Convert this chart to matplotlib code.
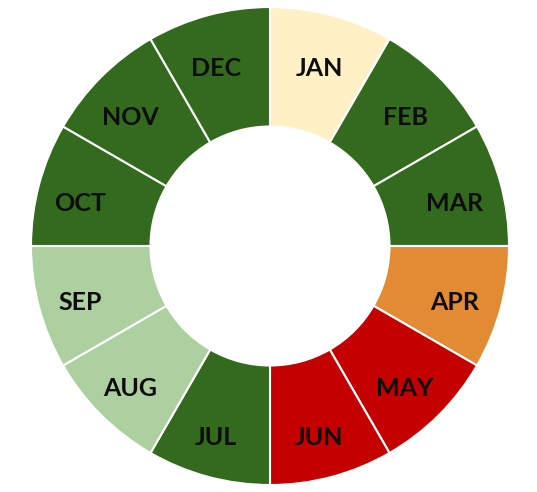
import numpy as np
import matplotlib
matplotlib.use("Agg")
import matplotlib.pyplot as plt

months = ["JAN", "FEB", "MAR", "APR", "MAY", "JUN",
          "JUL", "AUG", "SEP", "OCT", "NOV", "DEC"]
values = [1] * 12
colors = ["#FFF0C6", "#336A1E", "#336A1E", "#E38A35", "#C40000", "#C40000",
          "#336A1E", "#ADD0A0", "#ADD0A0", "#336A1E", "#336A1E", "#336A1E"]

W, H = 537, 492
fig = plt.figure(figsize=(W / 100, H / 100), dpi=100)
ax = fig.add_axes([0, 0, 1, 1])
R = 239.0
cx, cy = 270.0, 246.0

wedges, _ = ax.pie(values, colors=colors, startangle=90, counterclock=False,
                   radius=1.0,
                   wedgeprops=dict(width=0.5, edgecolor="white", linewidth=1.5))
ax.set_xlim(-cx / R, (W - cx) / R)
ax.set_ylim(-(H - cy) / R, cy / R)
ax.set_aspect("equal")
ax.axis("off")

lr = 191 / R
yoff = -5 / R
for w, lab in zip(wedges, months):
    ang = np.deg2rad((w.theta1 + w.theta2) / 2)
    x = lr * np.cos(ang)
    if x < 0:
        x -= 5 / R
    y = lr * np.sin(ang) + yoff
    ax.text(x, y, lab, ha="center", va="center_baseline", fontsize=18,
            fontweight="bold", family=["Lato", "DejaVu Sans"], color="#0d0d0d")

fig.savefig("out.png", dpi=100)
